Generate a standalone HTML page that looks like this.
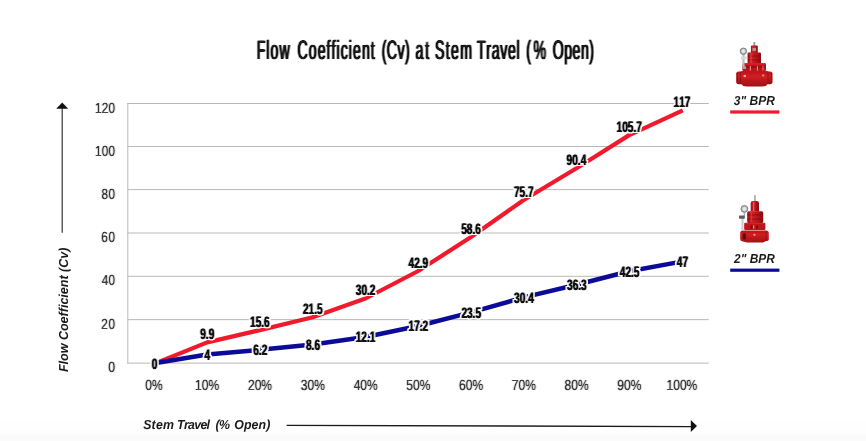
<!DOCTYPE html>
<html lang="en">
<head>
<meta charset="utf-8">
<title>Flow Coefficient (Cv) at Stem Travel (% Open)</title>
<style>
html,body{margin:0;padding:0;background:#fff;}
body{width:866px;height:441px;overflow:hidden;position:relative;font-family:"Liberation Sans",sans-serif;}
svg{display:block;position:absolute;left:0;top:0;}
text{font-family:"Liberation Sans",sans-serif;font-kerning:none;text-rendering:geometricPrecision;}
.grid line{stroke:#b9b9b9;stroke-width:1;}
.al{font-size:14.7px;fill:#333;}
.dl text{font-size:15.2px;font-weight:bold;fill:#0d0d0d;}
.ttl{font-size:26.7px;fill:#111;}
.ax{font-size:13px;font-weight:bold;font-style:italic;fill:#1a1a1a;}
.kern{font-kerning:normal;}
.lg{font-size:13px;font-weight:bold;font-style:italic;fill:#1a1a1a;}
</style>
</head>
<body>
<svg width="866" height="441" viewBox="0 0 866 441">
<defs>
<filter id="thick" filterUnits="userSpaceOnUse" x="0" y="0" width="866" height="441" color-interpolation-filters="sRGB">
<feConvolveMatrix order="3 1" kernelMatrix="0.5 1 0.5" divisor="1" edgeMode="none" preserveAlpha="false"/>
</filter>
<filter id="thin" filterUnits="userSpaceOnUse" x="0" y="0" width="866" height="441" color-interpolation-filters="sRGB">
<feConvolveMatrix order="3 1" kernelMatrix="0.2 1 0.2" divisor="1" edgeMode="none" preserveAlpha="false"/>
</filter>
<filter id="halo" filterUnits="userSpaceOnUse" x="0" y="0" width="866" height="441" color-interpolation-filters="sRGB">
<feConvolveMatrix in="SourceGraphic" order="3 3" kernelMatrix="0 0 0 0.3 1 0.3 0 0 0" divisor="1" edgeMode="none" preserveAlpha="false" result="t"/>
<feMorphology in="t" operator="dilate" radius="1" result="d"/>
<feGaussianBlur in="d" stdDeviation="0.45" result="b"/>
<feComponentTransfer in="b" result="m"><feFuncA type="linear" slope="3" intercept="0"/></feComponentTransfer>
<feFlood flood-color="#ffffff" result="w"/>
<feComposite in="w" in2="m" operator="in" result="h"/>
<feMerge><feMergeNode in="h"/><feMergeNode in="t"/></feMerge>
</filter>
</defs>
<rect x="0" y="0" width="866" height="441" fill="#ffffff"/>
<rect x="0" y="420" width="866" height="14" fill="#fefefe"/>
<rect x="0" y="434" width="866" height="7" fill="#fbfbfb"/>
<g filter="url(#thick)">
<text class="ttl" transform="translate(0 59.10) scale(0.5300 1)"><tspan x="484.22" letter-spacing="2.043">Flow </tspan><tspan x="561.29" letter-spacing="1.974">Coefficient </tspan><tspan x="720.23" letter-spacing="0.777">(Cv) </tspan><tspan x="783.96" letter-spacing="3.402">at </tspan><tspan x="820.86" letter-spacing="2.483">Stem </tspan><tspan x="899.97" letter-spacing="1.264">Travel </tspan><tspan x="993.06" letter-spacing="4.693">(% </tspan><tspan x="1042.89" letter-spacing="0.952">Open)</tspan></text>
</g>
<g class="grid">
<line x1="127.3" y1="363.10" x2="708.8" y2="363.10"/>
<line x1="127.3" y1="319.65" x2="708.8" y2="319.65"/>
<line x1="127.3" y1="276.30" x2="708.8" y2="276.30"/>
<line x1="127.3" y1="233.00" x2="708.8" y2="233.00"/>
<line x1="127.3" y1="189.60" x2="708.8" y2="189.60"/>
<line x1="127.3" y1="146.50" x2="708.8" y2="146.50"/>
<line x1="127.3" y1="103.50" x2="708.8" y2="103.50"/>
<line x1="127.8" y1="103" x2="127.8" y2="363.6"/>
</g>
<g class="ylab" filter="url(#thin)">
<text class="al" transform="translate(108.31 372.10) scale(0.8400 1)">0</text>
<text class="al" transform="translate(101.31 328.65) scale(0.8000 1)" letter-spacing="0.713">20</text>
<text class="al" transform="translate(101.63 285.30) scale(0.8000 1)" letter-spacing="0.311">40</text>
<text class="al" transform="translate(101.30 242.00) scale(0.8000 1)" letter-spacing="0.720">60</text>
<text class="al" transform="translate(101.39 198.60) scale(0.8000 1)" letter-spacing="0.612">80</text>
<text class="al" transform="translate(95.00 155.50) scale(0.8000 1)" letter-spacing="0.209">100</text>
<text class="al" transform="translate(95.00 112.50) scale(0.8000 1)" letter-spacing="0.209">120</text>
</g>
<g class="xlab" filter="url(#thin)">
<text class="al" transform="translate(145.23 389.90) scale(0.8200 1)" letter-spacing="0.096">0%</text>
<text class="al" transform="translate(194.89 389.90) scale(0.8200 1)" letter-spacing="0.196">10%</text>
<text class="al" transform="translate(247.96 389.90) scale(0.8200 1)" letter-spacing="0.006">20%</text>
<text class="al" transform="translate(300.87 389.90) scale(0.8200 1)" letter-spacing="-0.083">30%</text>
<text class="al" transform="translate(353.81 389.90) scale(0.8200 1)" letter-spacing="-0.195">40%</text>
<text class="al" transform="translate(406.37 389.90) scale(0.8200 1)" letter-spacing="-0.069">50%</text>
<text class="al" transform="translate(459.00 389.90) scale(0.8200 1)" letter-spacing="0.010">60%</text>
<text class="al" transform="translate(511.75 389.90) scale(0.8200 1)" letter-spacing="0.013">70%</text>
<text class="al" transform="translate(564.61 389.90) scale(0.8200 1)" letter-spacing="-0.044">80%</text>
<text class="al" transform="translate(617.32 389.90) scale(0.8200 1)" letter-spacing="-0.019">90%</text>
<text class="al" transform="translate(666.58 389.90) scale(0.8200 1)" letter-spacing="-0.033">100%</text>
</g>
<text class="ax" transform="translate(68.3 372.12) rotate(-90) scale(0.9637 1)">Flow Coefficient (Cv)</text>
<line x1="62.2" y1="106" x2="62.2" y2="232.7" stroke="#222" stroke-width="1.1"/>
<path d="M62.2 102.6 L68.2 108.8 L56.2 108.8 Z" fill="#111"/>
<text class="ax" transform="translate(0 428.50) scale(0.9500 1)"><tspan x="150.68" letter-spacing="0.233">Stem </tspan><tspan x="186.45" letter-spacing="-0.742">Travel </tspan><tspan x="226.90" letter-spacing="-0.636">(% </tspan><tspan x="246.52" letter-spacing="0.129">Open)</tspan></text>
<line x1="286.6" y1="425.3" x2="692" y2="426.6" stroke="#1a1a1a" stroke-width="1.3"/>
<path d="M697 425.9 L690.8 419.9 L690.8 431.9 Z" fill="#111"/>
<polyline points="154.4,363.8 207.2,342.4 259.9,330.1 312.7,317.3 365.4,298.5 418.2,271.0 471.0,237.0 523.7,200.0 576.5,168.2 629.2,135.1 682.8,110.3" fill="none" stroke="#f01a2c" stroke-width="4.2" stroke-linejoin="round" stroke-linecap="butt"/>
<polyline points="154.4,363.2 207.2,354.5 259.9,349.8 312.7,344.6 365.4,337.0 418.2,326.0 471.0,312.4 523.7,297.4 576.5,284.7 629.2,271.3 682.9,261.4" fill="none" stroke="#0b0b98" stroke-width="4.5" stroke-linejoin="round" stroke-linecap="butt"/>
<g class="dl" filter="url(#halo)">
<text class="d" transform="translate(204.60 359.95) scale(0.6650 1)">4</text>
<text class="d" transform="translate(253.21 355.19) scale(0.6650 1)">6.2</text>
<text class="d" transform="translate(305.98 350.00) scale(0.6650 1)">8.6</text>
<text class="d" transform="translate(355.73 342.42) scale(0.6650 1)">12.1</text>
<text class="d" transform="translate(408.55 331.39) scale(0.6650 1)">17.2</text>
<text class="d" transform="translate(461.39 317.76) scale(0.6650 1)">23.5</text>
<text class="d" transform="translate(514.09 302.83) scale(0.6650 1)">30.4</text>
<text class="d" transform="translate(567.01 290.07) scale(0.6650 1)">36.3</text>
<text class="d" transform="translate(619.77 276.66) scale(0.6650 1)">42.5</text>
<text class="d" transform="translate(676.82 266.92) scale(0.6650 1)">47</text>
<text class="d" transform="translate(151.70 368.50) scale(0.6650 1)">0</text>
<text class="d" transform="translate(200.25 339.18) scale(0.6650 1)">9.9</text>
<text class="d" transform="translate(250.05 326.85) scale(0.6650 1)">15.6</text>
<text class="d" transform="translate(302.91 314.09) scale(0.6650 1)">21.5</text>
<text class="d" transform="translate(355.79 295.27) scale(0.6650 1)">30.2</text>
<text class="d" transform="translate(408.57 267.79) scale(0.6650 1)">42.9</text>
<text class="d" transform="translate(461.25 233.83) scale(0.6650 1)">58.6</text>
<text class="d" transform="translate(513.99 196.84) scale(0.6650 1)">75.7</text>
<text class="d" transform="translate(566.60 165.03) scale(0.6650 1)">90.4</text>
<text class="d" transform="translate(616.60 131.94) scale(0.6650 1)">105.7</text>
<text class="d" transform="translate(673.57 107.49) scale(0.6650 1)">117</text>
</g>
<defs>
<linearGradient id="rc" x1="0" y1="0" x2="1" y2="0">
<stop offset="0" stop-color="#9a0e13"/><stop offset="0.3" stop-color="#d41f25"/><stop offset="0.55" stop-color="#c0161c"/><stop offset="1" stop-color="#8e0c11"/>
</linearGradient>
<linearGradient id="rb" x1="0" y1="0" x2="0" y2="1">
<stop offset="0" stop-color="#bb151a"/><stop offset="0.35" stop-color="#d01d23"/><stop offset="1" stop-color="#9c1015"/>
</linearGradient>
<radialGradient id="gf" cx="0.5" cy="0.5" r="0.5">
<stop offset="0" stop-color="#f2f2f2"/><stop offset="0.55" stop-color="#d6d6d6"/><stop offset="1" stop-color="#8a8a8a"/>
</radialGradient>
<filter id="soft" x="-10%" y="-10%" width="120%" height="120%"><feGaussianBlur stdDeviation="0.45"/></filter>
</defs>
<g id="valve3" filter="url(#soft)">
<rect x="753.4" y="42" width="1.9" height="4.2" fill="#9b9b9b"/>
<rect x="750.9" y="45.6" width="6.9" height="7.6" rx="1" fill="url(#rc)"/>
<rect x="752.4" y="47.8" width="3.6" height="3.2" fill="#b0938c"/>
<rect x="747.6" y="52.4" width="13.4" height="11.4" rx="1.2" fill="url(#rc)"/>
<rect x="747.8" y="55.6" width="13" height="1" fill="#8a0c12" opacity="0.75"/>
<rect x="747.8" y="59.4" width="13" height="1" fill="#8a0c12" opacity="0.75"/>
<rect x="750.4" y="53" width="1.1" height="10" fill="#ec5a5a" opacity="0.7"/>
<rect x="742.4" y="63.2" width="23.6" height="7.8" rx="1.2" fill="#b8141a"/>
<rect x="743" y="63.4" width="22.4" height="1.4" fill="#d52228"/>
<rect x="743" y="66.2" width="22.4" height="1.3" fill="#860c12" opacity="0.85"/>
<rect x="749.8" y="66" width="1.1" height="4.6" fill="#f08a8a"/>
<rect x="756.9" y="66" width="1.1" height="4.6" fill="#f08a8a"/>
<rect x="762.5" y="66" width="1" height="4.6" fill="#e87878"/>
<rect x="736.3" y="71.4" width="36" height="12.8" rx="2.2" fill="url(#rb)"/>
<path d="M741.5 71 H767.5 V83 Q767.5 86.6 762 86.6 H747 Q741.5 86.6 741.5 83 Z" fill="url(#rb)"/>
<rect x="736.5" y="72.4" width="1.4" height="10.8" rx="0.7" fill="#8e0c12" opacity="0.8"/>
<rect x="739.9" y="71.8" width="0.9" height="12" fill="#8e0c12" opacity="0.8"/>
<rect x="767.6" y="71.8" width="0.9" height="12" fill="#8e0c12" opacity="0.8"/>
<rect x="771" y="72.4" width="1.4" height="10.8" rx="0.7" fill="#8e0c12" opacity="0.8"/>
<circle cx="744.8" cy="76" r="1.3" fill="#f7a0a0"/>
<circle cx="763.2" cy="75.4" r="1.2" fill="#ee7c7c"/>
<rect x="742.4" y="54" width="2.2" height="13" fill="#bcbcbc"/>
<rect x="741" y="56.6" width="5.8" height="2.6" rx="0.6" fill="#d8d8d8"/>
<rect x="742.8" y="66.2" width="3.2" height="2.8" fill="#a4a4a4"/>
<circle cx="743.4" cy="51.2" r="3.2" fill="url(#gf)" stroke="#858585" stroke-width="1"/>
</g>
<g id="valve2" filter="url(#soft)">
<rect x="754.2" y="195.2" width="1.5" height="6.2" fill="#9aa39a"/>
<path d="M750.7 211.6 V203.2 Q750.7 200.9 753 200.9 H756.8 Q759 200.9 759 203.2 V211.6 Z" fill="url(#rc)"/>
<rect x="753.2" y="202" width="1" height="9" fill="#f07a7a" opacity="0.8"/>
<rect x="756.6" y="202" width="0.9" height="9" fill="#8e0c12" opacity="0.6"/>
<rect x="747.2" y="211.2" width="16" height="11.8" rx="1.6" fill="url(#rc)"/>
<rect x="747.4" y="214.4" width="15.6" height="1.1" fill="#860c12" opacity="0.75"/>
<rect x="747.4" y="218.6" width="15.6" height="1.1" fill="#860c12" opacity="0.75"/>
<rect x="750.6" y="212" width="1.1" height="10" fill="#ec5a5a" opacity="0.6"/>
<rect x="744.2" y="222.8" width="21.2" height="7.2" rx="1.2" fill="#bc151b"/>
<rect x="744.8" y="223" width="20" height="1.3" fill="#d52228"/>
<rect x="750.6" y="225.6" width="1.8" height="3" fill="#5e0a0e"/>
<rect x="756.4" y="225.6" width="1.6" height="3" fill="#5e0a0e"/>
<rect x="753.2" y="225.4" width="1" height="3.4" fill="#f4a0a0"/>
<path d="M740.2 233 Q740.2 230.4 743 230.4 H766 Q768.8 230.4 768.8 233 V239.4 Q768.8 241 766 241 L763 242.6 H747 L743 241.6 Q740.2 241 740.2 239 Z" fill="url(#rb)"/>
<rect x="765.6" y="231" width="0.9" height="9.6" fill="#8e0c12" opacity="0.7"/>
<ellipse cx="744.3" cy="236.4" rx="1.7" ry="3.1" fill="#5a0a0c"/>
<circle cx="754.4" cy="234.8" r="1.1" fill="#f49a9a"/>
<rect x="741.4" y="218" width="2.2" height="12.4" fill="#cdcdcd"/>
<rect x="743.6" y="212.4" width="1.5" height="4" fill="#b0b0b0"/>
<rect x="739" y="215.5" width="5.8" height="3.2" rx="0.8" fill="#5c5c5c"/>
<circle cx="744.4" cy="208.9" r="3.4" fill="url(#gf)" stroke="#888888" stroke-width="1"/>
</g>
<text class="lg" transform="translate(733.81 104.80) scale(0.9218 1)">3&quot; BPR</text>
<rect x="730.2" y="110.4" width="49.2" height="3.2" fill="#f01a2c"/>
<text class="lg" transform="translate(734.09 263.10) scale(0.9155 1)">2&quot; BPR</text>
<rect x="730.2" y="268.6" width="49.2" height="3.2" fill="#0b0b98"/>
</svg>
</body>
</html>
